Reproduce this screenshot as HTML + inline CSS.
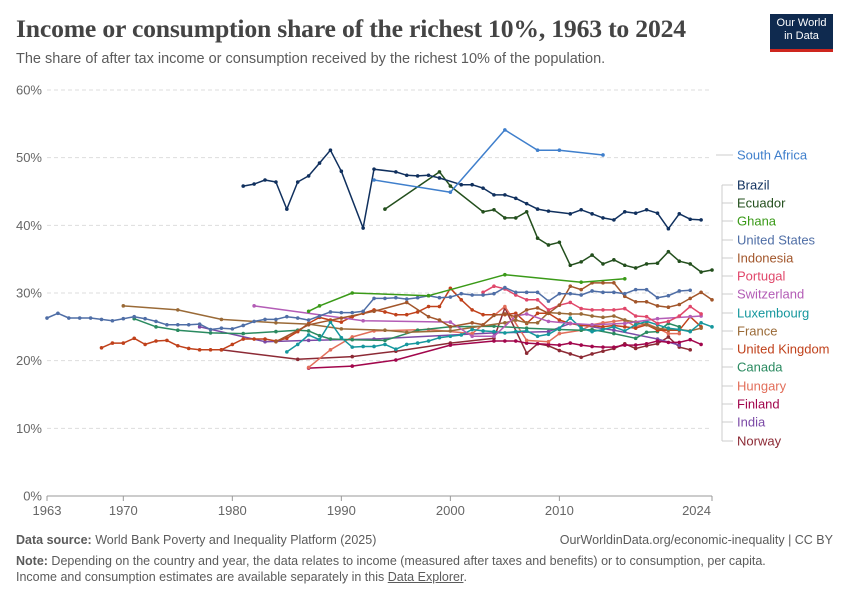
<!DOCTYPE html>
<html><head><meta charset="utf-8">
<style>
body{margin:0;background:#fff;font-family:"Liberation Sans",sans-serif;}
#wrap{position:relative;width:850px;height:600px;overflow:hidden;}
.title{position:absolute;left:16px;top:14px;font-family:"Liberation Serif",serif;font-size:25.7px;color:#444;font-weight:bold;letter-spacing:-0.2px}
.sub{position:absolute;left:16px;top:51px;font-size:14.5px;color:#5b5b5b}
.logo{position:absolute;left:770px;top:14px;width:63px;height:38px;background:#0f2a4f;border-bottom:3px solid #ce261e;color:#fff;font-size:11px;line-height:13px;text-align:center;padding-top:3px;box-sizing:border-box}
.foot{position:absolute;left:16px;font-size:12.5px;color:#5b5b5b}
</style></head><body>
<div id="wrap">
<div class="title">Income or consumption share of the richest 10%, 1963 to 2024</div>
<div class="sub">The share of after tax income or consumption received by the richest 10% of the population.</div>
<div class="logo">Our World<br>in Data</div>
<svg id="chart" width="850" height="600" style="position:absolute;left:0;top:0"></svg>
<div class="foot" style="top:533px"><b>Data source:</b> World Bank Poverty and Inequality Platform (2025)</div>
<div class="foot" style="top:533px;left:auto;right:17px">OurWorldinData.org/economic-inequality | CC BY</div>
<div class="foot" style="top:553px;line-height:16px"><b>Note:</b> Depending on the country and year, the data relates to income (measured after taxes and benefits) or to consumption, per capita.<br>Income and consumption estimates are available separately in this <u>Data Explorer</u>.</div>
</div>
<script>
const yTicks=[0,10,20,30,40,50,60];
const xTicks=[1963,1970,1980,1990,2000,2010,2024];
const countries=["South Africa","Brazil","Ecuador","Ghana","United States","Indonesia","Portugal","Switzerland","Luxembourg","France","United Kingdom","Canada","Hungary","Finland","India","Norway"];
const colors=["#3f7fcc","#10305e","#234f1d","#3a9a18","#4f6ea6","#a2562b","#e0476a","#b35cb6","#15979d","#9a6a37","#c0411b","#2a8a60","#e26e5a","#a2064c","#7b4aa6","#8c2a35"];
const labelY=[155,185,203,221,240,258,276,294,313,331,349,367,386,404,422,441];
const yrSA=[1993,2000,2005,2008,2010,2014];
const vSA=[46.7,44.9,54.1,51.1,51.1,50.4];
const yrBR=[1981,1982,1983,1984,1985,1986,1987,1988,1989,1990,1992,1993,1995,1996,1997,1998,1999,2001,2002,2003,2004,2005,2006,2007,2008,2009,2011,2012,2013,2014,2015,2016,2017,2018,2019,2020,2021,2022,2023];
const vBR=[45.8,46.1,46.7,46.4,42.4,46.4,47.3,49.2,51.1,48.0,39.6,48.3,47.9,47.4,47.3,47.4,47.0,46.0,46.0,45.5,44.5,44.5,44.0,43.2,42.4,42.1,41.7,42.3,41.7,41.1,40.8,42.0,41.8,42.3,41.8,39.5,41.7,40.9,40.8];
const yrEC=[1994,1999,2000,2003,2004,2005,2006,2007,2008,2009,2010,2011,2012,2013,2014,2015,2016,2017,2018,2019,2020,2021,2022,2023,2024];
const vEC=[42.4,47.9,45.8,42.0,42.3,41.1,41.1,42.0,38.1,37.1,37.5,34.1,34.6,35.6,34.3,34.9,34.1,33.7,34.3,34.4,36.1,34.7,34.3,33.1,33.4];
const yrGH=[1987,1988,1991,1998,2005,2012,2016];
const vGH=[27.3,28.1,30.0,29.6,32.7,31.6,32.1];
const yrUS=[];for(let y=1963;y<=2022;y++)yrUS.push(y);
const vUS=[26.3,27.0,26.3,26.3,26.3,26.1,25.9,26.2,26.5,26.2,25.8,25.3,25.3,25.3,25.4,24.6,24.8,24.7,25.2,25.8,26.1,26.1,26.5,26.3,26.0,26.6,27.2,27.1,27.1,27.3,29.2,29.2,29.3,29.1,29.3,29.6,29.3,29.4,29.9,29.7,29.7,29.9,30.8,30.1,30.1,30.1,28.8,29.9,29.9,29.7,30.3,30.1,30.1,29.9,30.5,30.5,29.3,29.6,30.3,30.4];
const yrID=[1984,1987,1990,1993,1996,1998,1999,2000,2002,2003,2004,2005,2006,2007,2008,2009,2010,2011,2012,2013,2014,2015,2016,2017,2018,2019,2020,2021,2022,2023,2024];
const vID=[22.8,25.3,26.3,27.3,28.6,26.5,26.0,25.0,25.6,25.3,26.7,26.9,26.5,27.5,27.8,27.0,28.2,31.0,30.5,31.5,31.5,31.5,29.5,28.7,28.7,28.1,27.9,28.3,29.2,30.1,29.0];
const yrPT=[2003,2004,2005,2006,2007,2008,2009,2010,2011,2012,2013,2014,2015,2016,2017,2018,2019,2020,2021,2022,2023];
const vPT=[30.1,31.0,30.6,29.7,29.0,29.0,27.5,28.2,28.6,27.7,27.5,27.5,27.5,27.7,26.6,26.5,25.5,25.8,26.6,28.0,26.9];
const yrCH=[1982,1992,2000,2002,2004,2006,2007,2009,2011,2013,2016,2019,2022,2023];
const vCH=[28.1,25.9,25.7,23.6,23.6,26.6,26.9,25.8,25.5,25.3,25.5,26.2,26.5,26.6];
const yrLU=[1985,1986,1987,1988,1989,1990,1991,1992,1993,1994,1995,1996,1997,1998,1999,2000,2001,2002,2003,2004,2005,2006,2007,2008,2009,2010,2011,2012,2013,2014,2015,2016,2017,2018,2019,2020,2021,2022,2023,2024];
const vLU=[21.3,22.4,23.8,23.1,25.7,23.4,22.0,22.1,22.1,22.4,21.7,22.4,22.6,22.9,23.4,23.6,23.8,24.6,24.4,24.3,24.1,24.3,24.4,23.6,23.9,24.8,26.3,24.8,24.3,24.6,25.0,24.4,25.3,25.8,25.3,24.8,24.6,24.3,25.6,25.0];
const yrFR=[1970,1975,1979,1984,1987,1990,1994,1996,2000,2002,2005,2006,2007,2008,2009,2010,2011,2012,2013,2014,2015,2016,2017,2018,2019,2020,2021,2022,2023];
const vFR=[28.1,27.5,26.1,25.6,25.4,24.7,24.5,24.2,24.4,24.9,25.6,26.0,25.6,25.6,27.1,27.0,26.9,26.9,26.6,26.4,26.6,26.0,25.7,25.3,24.8,24.6,24.6,24.4,24.8];
const yrUK=[1968,1969,1970,1971,1972,1973,1974,1975,1976,1977,1978,1979,1980,1981,1982,1983,1984,1985,1986,1987,1988,1989,1990,1991,1992,1993,1994,1995,1996,1997,1998,1999,2000,2001,2002,2003,2004,2005,2006,2007,2008,2009,2010,2011,2012,2013,2014,2015,2016,2017,2018,2019,2020,2021,2022,2023];
const vUK=[21.9,22.6,22.6,23.3,22.4,22.9,23.0,22.2,21.8,21.6,21.6,21.6,22.4,23.2,23.2,23.2,22.9,23.3,24.3,25.5,26.4,26.0,25.7,26.5,27.0,27.5,27.2,26.8,26.8,27.2,28.0,28.0,30.7,29.0,27.5,26.8,26.8,26.8,27.0,25.5,27.0,27.0,26.0,25.5,25.2,25.2,25.0,25.2,25.0,24.8,25.3,24.5,24.5,24.5,26.5,25.0];
const yrCA=[1971,1973,1975,1978,1981,1984,1986,1987,1988,1989,1991,1994,1997,2000,2004,2007,2010,2012,2013,2015,2017,2018,2019,2020,2021];
const vCA=[26.2,25.0,24.5,24.1,24.0,24.3,24.5,24.4,23.7,23.2,23.1,23.0,24.5,25.0,25.1,24.8,24.6,24.5,24.6,24.0,23.3,24.2,24.3,25.5,25.0];
const yrHU=[1987,1989,1991,1993,1998,2002,2005,2007,2009,2010,2012,2013,2014,2015,2016,2017,2018,2019,2020,2021];
const vHU=[19.0,21.6,23.5,24.4,24.6,24.0,28.0,23.0,22.8,24.0,24.5,25.3,25.6,25.8,26.0,25.0,25.5,24.8,24.0,24.0];
const yrFI=[1987,1991,1995,2000,2004,2005,2006,2007,2008,2009,2010,2011,2012,2013,2014,2015,2016,2017,2018,2019,2020,2021,2022,2023];
const vFI=[18.9,19.2,20.1,22.3,22.9,22.9,22.9,22.6,22.5,22.4,22.3,22.6,22.3,22.1,22.0,22.0,22.3,22.3,22.5,22.9,22.7,22.7,23.1,22.4];
const yrIN=[1977,1983,1987,1993,2004,2009,2011,2015,2019,2021];
const vIN=[25.0,22.8,23.0,23.2,24.1,24.3,25.5,24.5,23.2,22.3];
const yrNO=[1979,1986,1991,1995,2000,2004,2005,2007,2008,2009,2010,2011,2012,2013,2014,2015,2016,2017,2018,2019,2020,2021,2022];
const vNO=[21.6,20.2,20.6,21.4,22.6,23.3,27.8,21.1,22.5,22.2,21.5,21.0,20.5,21.0,21.4,21.8,22.5,21.8,22.2,22.5,23.5,22.0,21.6];
const years=[yrSA,yrBR,yrEC,yrGH,yrUS,yrID,yrPT,yrCH,yrLU,yrFR,yrUK,yrCA,yrHU,yrFI,yrIN,yrNO];
const values=[vSA,vBR,vEC,vGH,vUS,vID,vPT,vCH,vLU,vFR,vUK,vCA,vHU,vFI,vIN,vNO];

const NS="http://www.w3.org/2000/svg";
const svg=document.getElementById('chart');
const X0=47,X1=712,Y0=496,Y1=90;
const xs=y=>X0+(y-1963)*(X1-X0)/(2024-1963);
const ys=v=>Y0-v*(Y0-Y1)/60;
function mk(t,a,p){const e=document.createElementNS(NS,t);for(const k in a)e.setAttribute(k,a[k]);(p||svg).appendChild(e);return e;}
yTicks.forEach(t=>{
  const g=mk('line',{x1:X0,x2:X1,y1:ys(t),y2:ys(t),stroke:t?'#ddd':'#999','stroke-dasharray':t?'4,3':'none'});
  
  
  const l=mk('text',{x:42,y:ys(t)+4.5,'text-anchor':'end','font-size':'13','fill':'#666','font-family':'Liberation Sans'});
  l.textContent=t+'%';
  
  
});
xTicks.forEach(t=>{
  const tk=mk('line',{x1:xs(t),x2:xs(t),y1:Y0,y2:Y0+5,stroke:'#999'});
  
  
  const l=mk('text',{x:xs(t),y:Y0+19,'text-anchor':t==2024?'end':'middle','font-size':'13','fill':'#666','font-family':'Liberation Sans'});
  if(t==2024)l.setAttribute('x',xs(t)-1);
  l.textContent=t;
  
  
});
for(let i=countries.length-1;i>=0;i--){
  const g=mk('g',{});
  
  
  const pts=years[i].map((y,j)=>xs(y).toFixed(1)+','+ys(values[i][j]).toFixed(1)).join(' ');
  const pl=mk('polyline',{points:pts,fill:'none',stroke:colors[i],'stroke-width':1.5,'stroke-linejoin':'round'},g);
  
  
  years[i].forEach((y,j)=>{
    const c=mk('circle',{cx:xs(y),cy:ys(values[i][j]),r:1.8,fill:colors[i]},g);
    
    
  });
}
mk('line',{x1:722,x2:722,y1:185,y2:441,stroke:'#ccc'});
countries.forEach((c,i)=>{
  const ly=labelY[i];
  const ln=mk('line',{x1:i==0?716:722,x2:733,y1:ly,y2:ly,stroke:'#ccc'});
  
  
  const t=mk('text',{x:737,y:ly+4.5,'font-size':'13','fill':colors[i],'font-family':'Liberation Sans'});
  t.textContent=c;
  
  
});
</script>
</body></html>
